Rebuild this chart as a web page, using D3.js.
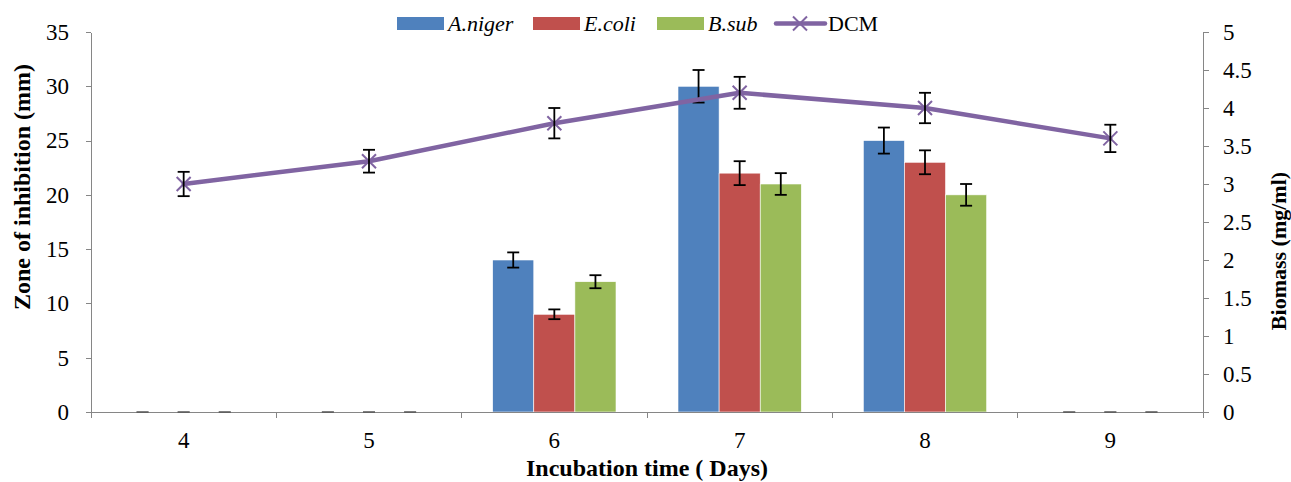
<!DOCTYPE html>
<html>
<head>
<meta charset="utf-8" />
<style>
    body { margin: 0; background: #fff; }
    .axis path, .axis line { stroke: #868686; shape-rendering: crispEdges; }
</style>
</head>
<body>
<svg width="1291" height="482"></svg>
<script src="https://cdnjs.cloudflare.com/ajax/libs/d3/7.8.5/d3.min.js"></script>
<script>
    // data
    var days = ["4", "5", "6", "7", "8", "9"];
    var series = ["A.niger", "E.coli", "B.sub"];
    var colors = ["#4F81BD", "#C0504D", "#9BBB59"];
    var aniger = [0, 0, 14, 30, 25, 0];
    var anigerErr = [0, 0, 0.7, 1.5, 1.2, 0];
    var ecoli = [0, 0, 9, 22, 23, 0];
    var ecoliErr = [0, 0, 0.45, 1.1, 1.1, 0];
    var bsub = [0, 0, 12, 21, 20, 0];
    var bsubErr = [0, 0, 0.6, 1.0, 1.0, 0];
    var dcm = [3.0, 3.3, 3.8, 4.2, 4.0, 3.6];
    var dcmErr = [0.16, 0.15, 0.2, 0.21, 0.2, 0.18];
    var leftTicks = [0, 5, 10, 15, 20, 25, 30, 35];
    var rightTicks = [0, 0.5, 1, 1.5, 2, 2.5, 3, 3.5, 4, 4.5, 5];

    var FONT = "'Times New Roman', 'Liberation Serif', Tinos, 'DejaVu Serif', serif";

    var svg = d3.select("svg");
    var margin = { top: 32, left: 91, right: 88, bottom: 70 };
    var width = 1291 - margin.left - margin.right;
    var height = 482 - margin.top - margin.bottom;
    var g = svg.append("g").attr("transform", "translate(" + margin.left + "," + margin.top + ")");

    var x = d3.scaleBand().domain(days).range([0, width]).paddingInner(0).paddingOuter(0);
    var x1 = d3.scaleBand().domain(series).range([31, x.bandwidth() - 31]);
    var y = d3.scaleLinear().domain([0, 35]).range([height, 0]);
    var y2 = d3.scaleLinear().domain([0, 5]).range([height, 0]);

    var barData = [];
    var vals = [aniger, ecoli, bsub];
    var errs = [anigerErr, ecoliErr, bsubErr];
    days.forEach(function (d, i) {
        series.forEach(function (s, j) {
            barData.push({ day: d, s: s, v: vals[j][i], e: errs[j][i], c: colors[j] });
        });
    });

    // bars
    g.selectAll(".bar").data(barData).enter().append("rect")
        .attr("x", d => x(d.day) + x1(d.s))
        .attr("width", x1.bandwidth())
        .attr("y", d => y(d.v))
        .attr("height", d => height - y(d.v))
        .attr("fill", d => d.c)
        .attr("stroke", "#fff")
        .attr("stroke-width", 0.6);

    // axes
    var xAxis = g.append("g").attr("class", "axis")
        .attr("transform", "translate(0," + height + ")")
        .call(d3.axisBottom(x).tickSize(0).tickPadding(20));
    xAxis.select(".domain").attr("d", "M0,0.5H" + width);
    g.append("g").attr("class", "axis").selectAll("line")
        .data(d3.range(days.length + 1)).enter().append("line")
        .attr("x1", i => i * x.step()).attr("x2", i => i * x.step())
        .attr("y1", height).attr("y2", height + 6);

    var yAxis = g.append("g").attr("class", "axis")
        .call(d3.axisLeft(y).tickValues(leftTicks).tickSize(5).tickSizeOuter(0).tickPadding(17));

    var y2Axis = g.append("g").attr("class", "axis")
        .attr("transform", "translate(" + width + ",0)")
        .call(d3.axisRight(y2).tickValues(rightTicks).tickFormat(d => String(d))
            .tickSize(6).tickSizeOuter(0).tickPadding(14));

    [xAxis, yAxis, y2Axis].forEach(function (a) {
        a.attr("font-family", null);
        a.selectAll(".tick text").style("font-family", FONT).style("font-size", "23px").attr("fill", "#000");
    });

    // bar error bars
    var cap = 6;
    var eb = g.selectAll(".err").data(barData).enter().append("g")
        .attr("stroke", "#000").attr("stroke-width", 1.8);
    eb.append("line")
        .attr("x1", d => x(d.day) + x1(d.s) + x1.bandwidth() / 2)
        .attr("x2", d => x(d.day) + x1(d.s) + x1.bandwidth() / 2)
        .attr("y1", d => y(d.v + d.e)).attr("y2", d => y(d.v - d.e));
    [1, -1].forEach(function (sgn) {
        eb.append("line")
            .attr("x1", d => x(d.day) + x1(d.s) + x1.bandwidth() / 2 - cap)
            .attr("x2", d => x(d.day) + x1(d.s) + x1.bandwidth() / 2 + cap)
            .attr("y1", d => y(d.v + sgn * d.e)).attr("y2", d => y(d.v + sgn * d.e))
            .attr("stroke", d => d.v === 0 ? "#555" : "#000")
            .attr("stroke-width", d => d.v === 0 ? 1 : 1.8);
    });

    // DCM line
    var lineData = days.map((d, i) => ({ day: d, v: dcm[i], e: dcmErr[i] }));
    var cx = d => x(d.day) + x.bandwidth() / 2;
    g.append("path").datum(lineData)
        .attr("fill", "none").attr("stroke", "#8064A2").attr("stroke-width", 4.5)
        .attr("stroke-linejoin", "round").attr("stroke-linecap", "round")
        .attr("d", d3.line().x(cx).y(d => y2(d.v)));

    var mk = 7;
    var m = g.selectAll(".mk").data(lineData).enter().append("g")
        .attr("transform", d => "translate(" + cx(d) + "," + y2(d.v) + ")");
    m.append("path").attr("d", "M" + -mk + "," + -mk + "L" + mk + "," + mk + "M" + -mk + "," + mk + "L" + mk + "," + -mk)
        .attr("stroke", "#8064A2").attr("stroke-width", 2);

    var le = g.selectAll(".lerr").data(lineData).enter().append("g")
        .attr("stroke", "#000").attr("stroke-width", 1.8);
    le.append("line").attr("x1", cx).attr("x2", cx)
        .attr("y1", d => y2(d.v + d.e)).attr("y2", d => y2(d.v - d.e));
    [1, -1].forEach(function (sgn) {
        le.append("line").attr("x1", d => cx(d) - cap).attr("x2", d => cx(d) + cap)
            .attr("y1", d => y2(d.v + sgn * d.e)).attr("y2", d => y2(d.v + sgn * d.e));
    });

    // axis titles
    svg.append("text")
        .attr("transform", "translate(30,187) rotate(-90)")
        .attr("text-anchor", "middle").style("font-family", FONT).style("font-size", "24px").style("font-weight", "bold")
        .text("Zone of inhibition (mm)");
    svg.append("text")
        .attr("transform", "translate(1286,251) rotate(-90)")
        .attr("text-anchor", "middle").style("font-family", FONT).style("font-size", "22px").style("font-weight", "bold")
        .text("Biomass (mg/ml)");
    svg.append("text")
        .attr("x", 647).attr("y", 476)
        .attr("text-anchor", "middle").style("font-family", FONT).style("font-size", "24px").style("font-weight", "bold")
        .text("Incubation time ( Days)");

    // legend
    var legX = [397, 533, 657];
    series.forEach(function (s, i) {
        svg.append("rect").attr("x", legX[i]).attr("y", 17).attr("width", 47).attr("height", 13).attr("fill", colors[i]);
        svg.append("text").attr("x", legX[i] + 51).attr("y", 31)
            .style("font-family", FONT).style("font-size", "22px").style("font-style", "italic").text(s);
    });
    svg.append("line").attr("x1", 776).attr("x2", 825).attr("y1", 23.5).attr("y2", 23.5)
        .attr("stroke", "#8064A2").attr("stroke-width", 4.5).attr("stroke-linecap", "round");
    svg.append("path").attr("transform", "translate(800,23.5)")
        .attr("d", "M" + -mk + "," + -mk + "L" + mk + "," + mk + "M" + -mk + "," + mk + "L" + mk + "," + -mk)
        .attr("stroke", "#8064A2").attr("stroke-width", 2);
    svg.append("text").attr("x", 828).attr("y", 31)
        .style("font-family", FONT).style("font-size", "22px").text("DCM");
</script>
</body>
</html>
